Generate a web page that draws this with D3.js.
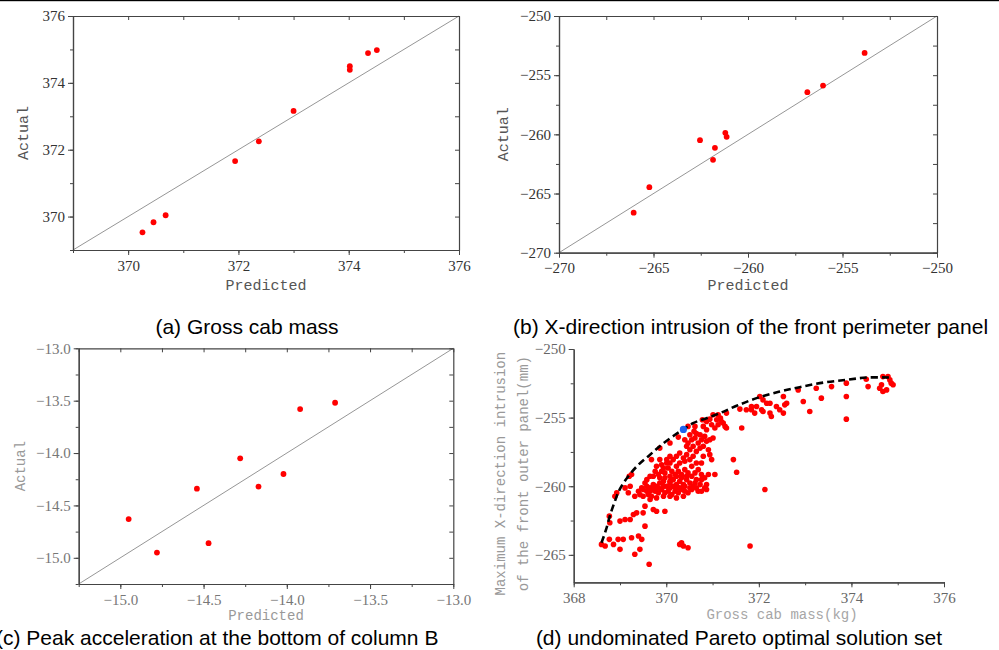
<!DOCTYPE html>
<html>
<head>
<meta charset="utf-8">
<script src="https://cdn.jsdelivr.net/npm/d3@7"></script>
<style>
  html, body { margin: 0; padding: 0; background: #fff; }
  svg { display: block; }
</style>
</head>
<body>
<div id="chart"></div>
<script>
// (a) gross cab mass, kg
const massPredicted = [370.26, 370.46, 370.68, 371.94, 372.37, 373.00, 374.02, 374.02, 374.35, 374.51];
const massActual    = [369.53, 369.83, 370.04, 371.66, 372.25, 373.16, 374.50, 374.39, 374.89, 374.98];
const massTicks = [370, 372, 374, 376];

// (b) x-direction intrusion, mm
const intrusionPredicted = [-266.05, -265.22, -262.54, -261.85, -261.75, -261.20, -261.13, -256.86, -256.03, -253.83];
const intrusionActual    = [-266.62, -264.46, -260.49, -262.15, -261.14, -259.87, -260.21, -256.44, -255.88, -253.12];
const intrusionTicks = [-270, -265, -260, -255, -250];

// (c) peak acceleration
const accelPredicted = [-14.95, -14.78, -14.54, -14.47, -14.28, -14.17, -14.02, -13.92, -13.71];
const accelActual    = [-14.63, -14.95, -14.34, -14.86, -14.05, -14.32, -14.20, -13.58, -13.52];
const accelTicks = [-15.0, -14.5, -14.0, -13.5, -13.0];

// (d) pareto solutions [mass kg, intrusion mm]
const solutions = [
  [368.60,-264.24],[368.68,-264.36],[368.77,-263.87],[368.78,-262.66],[368.77,-262.18],[368.89,-260.73],
  [368.93,-260.48],[369.11,-260.12],[369.20,-259.27],[369.25,-259.15],[369.68,-258.06],[369.86,-257.22],
  [370.08,-256.85],[370.26,-256.42],[370.47,-255.64],[370.62,-255.64],[370.78,-255.16],[371.01,-254.79],
  [371.12,-254.79],[371.30,-254.67],[371.59,-254.38],[371.73,-254.43],[371.84,-254.19],[372.02,-253.46],
  [372.09,-253.71],[372.24,-253.95],[372.53,-253.46],[372.85,-252.98],[373.24,-252.86],[373.57,-252.74],
  [373.89,-252.49],[374.32,-252.20],[374.36,-252.74],[374.68,-252.01],[374.79,-252.01],[374.83,-252.25],
  [374.61,-252.86],[374.68,-253.10],[374.76,-252.98],[374.86,-252.49],[374.90,-252.61],[374.65,-252.61],
  [371.84,-254.43],[371.91,-254.67],[371.95,-254.19],[372.06,-254.43],[372.09,-254.55],[372.17,-253.95],
  [372.24,-254.67],[372.27,-254.92],[372.38,-254.19],[372.45,-254.43],[372.53,-254.67],[372.56,-254.07],
  [372.60,-253.95],[372.96,-253.83],[373.10,-254.55],[373.35,-253.58],[373.89,-253.46],[373.89,-255.11],
  [372.13,-260.24],[371.81,-264.36],[371.45,-258.06],[371.52,-258.98],[371.63,-255.76],[371.30,-255.76],
  [371.23,-255.40],[371.09,-255.16],[370.94,-255.11],[370.87,-255.28],[371.27,-255.64],[371.17,-255.04],
  [370.29,-264.24],[370.37,-264.36],[370.47,-264.48],[370.33,-264.12],[369.63,-265.69],
  [368.96,-263.87],[368.86,-264.24],[369.07,-263.87],[369.25,-263.75],[369.40,-263.63],[369.47,-263.87],
  [369.00,-264.60],[369.43,-264.60],[369.32,-264.96],[369.54,-262.91],[369.00,-262.54],[369.11,-262.42],
  [369.22,-262.42],[369.29,-262.06],[369.36,-261.94],[369.50,-261.94],[369.72,-261.69],[369.79,-261.82],
  [369.97,-261.82],[369.54,-261.45],[369.65,-260.97],[369.18,-260.48],[369.32,-260.73],[369.43,-260.61],
  [369.22,-260.00],
  [369.50,-260.24],[369.58,-260.00],[369.65,-260.12],[369.72,-259.88],[369.79,-260.00],[369.86,-259.76],
  [369.94,-259.64],[370.01,-260.00],[370.08,-259.76],[370.15,-259.52],[370.22,-259.88],[370.29,-259.64],
  [370.37,-259.88],[370.44,-259.52],[370.51,-259.76],[370.58,-260.00],[370.65,-260.12],[370.73,-259.88],
  [370.83,-260.12],[370.87,-260.24],[369.76,-260.36],[369.83,-260.48],[369.90,-260.24],[369.97,-260.48],
  [370.04,-260.36],[370.12,-260.61],[370.19,-260.36],[370.26,-260.48],[370.33,-260.24],[370.40,-260.36],
  [370.47,-260.48],[370.55,-260.24],[370.65,-259.52],[370.76,-259.52],[369.61,-260.61],[369.68,-260.73],
  [369.79,-260.85],[369.94,-260.73],[370.08,-260.73],[370.22,-260.85],[370.37,-260.73],[369.50,-260.73],
  [369.72,-259.27],[369.83,-259.15],[369.90,-258.91],[369.97,-259.03],[370.04,-258.67],[370.12,-258.91],
  [370.19,-259.15],[370.26,-258.91],[370.33,-259.15],[370.40,-258.79],[370.47,-259.03],[370.55,-259.27],
  [370.62,-259.03],[370.69,-258.79],[370.76,-259.15],[370.83,-259.39],[370.91,-259.15],[370.98,-258.06],
  [371.05,-259.15],[370.94,-257.70],[369.79,-258.55],[369.90,-258.43],[370.01,-258.06],[370.08,-258.31],
  [370.15,-258.06],[370.22,-257.82],[370.29,-258.31],[370.37,-257.94],[370.44,-257.70],[370.51,-258.06],
  [370.58,-257.82],[370.65,-257.46],[370.73,-257.22],[370.80,-257.09],[370.87,-256.73],[370.94,-256.61],
  [371.01,-256.49],[370.58,-257.09],[370.69,-256.85],[370.76,-256.61],[370.83,-256.37],[370.51,-257.34],
  [370.44,-257.09],[370.62,-256.49],[370.73,-256.25],[370.91,-257.34],[370.80,-257.82],[370.40,-258.18],
  [370.55,-258.55],[370.65,-258.31],[370.76,-258.31],[370.29,-257.58],[370.22,-258.55],[370.08,-257.82],
  [370.40,-256.61],[370.47,-256.85],[370.55,-256.61],[370.60,-256.00],[370.51,-256.25],[370.65,-256.17],
  [370.80,-255.64],[370.87,-255.88],[371.05,-255.76],[371.12,-255.52],[371.19,-255.28],[370.98,-255.52],
  [369.58,-259.52],[369.65,-259.27],[369.54,-259.76],[369.47,-260.12],[369.40,-260.36],[369.86,-259.39],
  [369.97,-259.39],[370.08,-259.27],[370.15,-260.00],[370.29,-260.12],[370.40,-260.00],[370.51,-260.12],
  [370.62,-259.76],[370.76,-260.36],[370.87,-259.88],[370.69,-260.36],[369.94,-260.00],[369.83,-260.12],
  [369.72,-260.24],[369.65,-260.36],[369.58,-260.36],[370.08,-260.12],[370.21,-260.12],[370.33,-259.39],
  [370.44,-259.27],[370.08,-259.64],[370.22,-259.27],[370.01,-258.31],[369.94,-258.67],[369.76,-258.91],
  [369.86,-258.06]
];
const chosenSolution = [370.37, -255.86];
const paretoFront = [
  [368.60,-264.12],[368.70,-263.15],[368.78,-262.18],[368.89,-261.09],[369.00,-260.19],[369.18,-259.27],
  [369.40,-258.43],[369.65,-257.70],[369.90,-256.97],[370.19,-256.25],[370.37,-255.86],[370.58,-255.40],
  [370.87,-255.04],[371.16,-254.67],[371.52,-254.14],[371.95,-253.58],[372.45,-253.10],[372.88,-252.78],
  [373.39,-252.45],[373.89,-252.25],[374.32,-252.08],[374.81,-252.08]
];
const paretoMassTicks = [368, 370, 372, 374, 376];
const paretoIntrusionTicks = [-265, -260, -255, -250];

const captions = [
  '(a) Gross cab mass',
  '(b) X-direction intrusion of the front perimeter panel',
  '(c) Peak acceleration at the bottom of column B',
  '(d) undominated Pareto optimal solution set'
];

const width = 999;
const height = 650;
const serif = "'Liberation Serif', 'DejaVu Serif', serif";
const mono = "'Liberation Mono', 'DejaVu Sans Mono', monospace";
const sans = "'Liberation Sans', Arial, sans-serif";

const svg = d3.select('#chart')
  .append('svg')
  .attr('width', width)
  .attr('height', height);

// thin rule along the top edge
svg.append('rect').attr('x', 0).attr('y', 0).attr('width', width).attr('height', 1.2).attr('fill', '#000');

function styleAxis(sel, cfg) {
  sel.select('.domain').attr('stroke', '#444').attr('stroke-width', 1.2);
  sel.selectAll('.tick line').attr('stroke', '#444').attr('stroke-width', 1);
  sel.selectAll('.tick text')
    .attr('font-family', serif)
    .attr('font-size', cfg.fontSize || 15)
    .attr('fill', cfg.tickColor);
}

function drawParity(cfg) {
  const x = d3.scaleLinear().domain(cfg.domain).range([cfg.left, cfg.right]);
  const y = d3.scaleLinear().domain(cfg.domain).range([cfg.bottom, cfg.top]);
  const g = svg.append('g');
  const fmt = cfg.format;

  // 1:1 reference line
  g.append('line')
    .attr('x1', x(cfg.domain[0])).attr('y1', y(cfg.domain[0]))
    .attr('x2', x(cfg.domain[1])).attr('y2', y(cfg.domain[1]))
    .attr('stroke', '#8a8a8a').attr('stroke-width', 0.9);

  // frame: top and right with inward ticks
  g.append('g').attr('transform', `translate(0,${cfg.top})`)
    .call(d3.axisTop(x).tickValues(cfg.minor).tickSize(-4).tickSizeOuter(0).tickFormat(''))
    .call(styleAxis, cfg);
  g.append('g').attr('transform', `translate(${cfg.right},0)`)
    .call(d3.axisRight(y).tickValues(cfg.minor).tickSize(-4).tickSizeOuter(0).tickFormat(''))
    .call(styleAxis, cfg);

  // bottom and left
  g.append('g').attr('transform', `translate(0,${cfg.bottom})`)
    .call(d3.axisBottom(x).tickValues(cfg.minor).tickSize(3).tickSizeOuter(0).tickFormat(''))
    .call(styleAxis, cfg);
  g.append('g').attr('transform', `translate(0,${cfg.bottom})`)
    .call(d3.axisBottom(x).tickValues(cfg.major).tickSize(5).tickPadding(5).tickSizeOuter(0).tickFormat(fmt))
    .call(styleAxis, cfg);
  g.append('g').attr('transform', `translate(${cfg.left},0)`)
    .call(d3.axisLeft(y).tickValues(cfg.minor).tickSize(3).tickSizeOuter(0).tickFormat(''))
    .call(styleAxis, cfg);
  g.append('g').attr('transform', `translate(${cfg.left},0)`)
    .call(d3.axisLeft(y).tickValues(cfg.major).tickSize(5).tickPadding(3).tickSizeOuter(0).tickFormat(fmt))
    .call(styleAxis, cfg);

  g.append('g')
    .selectAll('circle')
    .data(d3.zip(cfg.predicted, cfg.actual))
    .join('circle')
    .attr('cx', (d) => x(d[0]))
    .attr('cy', (d) => y(d[1]))
    .attr('r', 2.9)
    .attr('fill', '#ff0000');

  g.append('text')
    .attr('transform', `translate(${cfg.yLabelX},${(cfg.top + cfg.bottom) / 2}) rotate(-90)`)
    .attr('text-anchor', 'middle')
    .attr('dy', '0.35em')
    .attr('font-family', mono)
    .attr('font-size', cfg.labelSize)
    .attr('fill', cfg.labelColor)
    .text('Actual');

  g.append('text')
    .attr('x', (cfg.left + cfg.right) / 2)
    .attr('y', cfg.xLabelY)
    .attr('text-anchor', 'middle')
    .attr('font-family', mono)
    .attr('font-size', cfg.labelSize)
    .attr('fill', cfg.labelColor)
    .text('Predicted');
}

drawParity({
  left: 73, right: 459, top: 16, bottom: 250,
  domain: [369, 376], major: massTicks, minor: d3.range(369, 376.5, 1),
  format: d3.format('d'), predicted: massPredicted, actual: massActual,
  tickColor: '#333', labelColor: '#555', labelSize: 15, yLabelX: 23, xLabelY: 290
});

drawParity({
  left: 559, right: 937, top: 16, bottom: 252.7,
  domain: [-270, -250], major: intrusionTicks, minor: d3.range(-270, -249, 2.5),
  format: d3.format('d'), predicted: intrusionPredicted, actual: intrusionActual,
  tickColor: '#333', labelColor: '#555', labelSize: 15, yLabelX: 503, xLabelY: 290
});

drawParity({
  left: 78.7, right: 453.3, top: 348.3, bottom: 584,
  domain: [-15.25, -13], major: accelTicks, minor: d3.range(-15.25, -12.9, 0.25),
  format: d3.format('.1f'), predicted: accelPredicted, actual: accelActual,
  tickColor: '#777', labelColor: '#999', labelSize: 14, yLabelX: 20, xLabelY: 620
});

// (d) pareto scatter
(function drawPareto() {
  const left = 573.7, right = 944, top = 349, bottom = 582.3;
  const x = d3.scaleLinear().domain([368, 376]).range([left, right]);
  const y = d3.scaleLinear().domain([-267, -250]).range([bottom, top]);
  const g = svg.append('g');
  const cfg = { tickColor: '#666', fontSize: 15 };

  g.append('g').attr('transform', `translate(0,${bottom})`)
    .call(d3.axisBottom(x).tickValues(d3.range(368, 376.5, 1)).tickSize(3).tickSizeOuter(0).tickFormat(''))
    .call(styleAxis, cfg);
  g.append('g').attr('transform', `translate(0,${bottom})`)
    .call(d3.axisBottom(x).tickValues(paretoMassTicks).tickSize(5).tickPadding(5).tickSizeOuter(0).tickFormat(d3.format('d')))
    .call(styleAxis, cfg);
  g.append('g').attr('transform', `translate(${left},0)`)
    .call(d3.axisLeft(y).tickValues(d3.range(-265, -249, 2.5)).tickSize(3).tickSizeOuter(0).tickFormat(''))
    .call(styleAxis, cfg);
  g.append('g').attr('transform', `translate(${left},0)`)
    .call(d3.axisLeft(y).tickValues(paretoIntrusionTicks).tickSize(5).tickPadding(3).tickSizeOuter(0).tickFormat(d3.format('d')))
    .call(styleAxis, cfg);

  g.append('g')
    .selectAll('circle')
    .data(solutions)
    .join('circle')
    .attr('cx', (d) => x(d[0]))
    .attr('cy', (d) => y(d[1]))
    .attr('r', 2.8)
    .attr('fill', '#ff0000');

  const line = d3.line()
    .x((d) => x(d[0]))
    .y((d) => y(d[1]))
    .curve(d3.curveCatmullRom);

  g.append('path')
    .datum(paretoFront)
    .attr('d', line)
    .attr('fill', 'none')
    .attr('stroke', '#000')
    .attr('stroke-width', 2.6)
    .attr('stroke-dasharray', '7,4');

  g.append('circle')
    .attr('cx', x(chosenSolution[0]))
    .attr('cy', y(chosenSolution[1]))
    .attr('r', 3.6)
    .attr('fill', '#1f62ee');

  g.append('text')
    .attr('x', 782).attr('y', 619)
    .attr('text-anchor', 'middle')
    .attr('font-family', mono).attr('font-size', 14)
    .attr('fill', '#a6a6a6')
    .text('Gross cab mass(kg)');

  const yLines = ['Maximum X-direction intrusion', 'of the front outer panel(mm)'];
  g.selectAll('.ylab')
    .data(yLines)
    .join('text')
    .attr('transform', (d, i) => `translate(${500 + i * 23},${(top + bottom) / 2 + 8}) rotate(-90)`)
    .attr('text-anchor', 'middle')
    .attr('dy', '0.35em')
    .attr('font-family', mono).attr('font-size', 14)
    .attr('fill', '#999')
    .text((d) => d);
})();

// captions
const captionPos = [
  { x: 247, y: 334, anchor: 'middle' },
  { x: 513, y: 334, anchor: 'start' },
  { x: -4, y: 645, anchor: 'start' },
  { x: 739, y: 645, anchor: 'middle' }
];
svg.append('g')
  .selectAll('text')
  .data(captions)
  .join('text')
  .attr('x', (d, i) => captionPos[i].x)
  .attr('y', (d, i) => captionPos[i].y)
  .attr('text-anchor', (d, i) => captionPos[i].anchor)
  .attr('font-family', sans)
  .attr('font-size', 21)
  .attr('fill', '#000')
  .text((d) => d);
</script>
</body>
</html>
